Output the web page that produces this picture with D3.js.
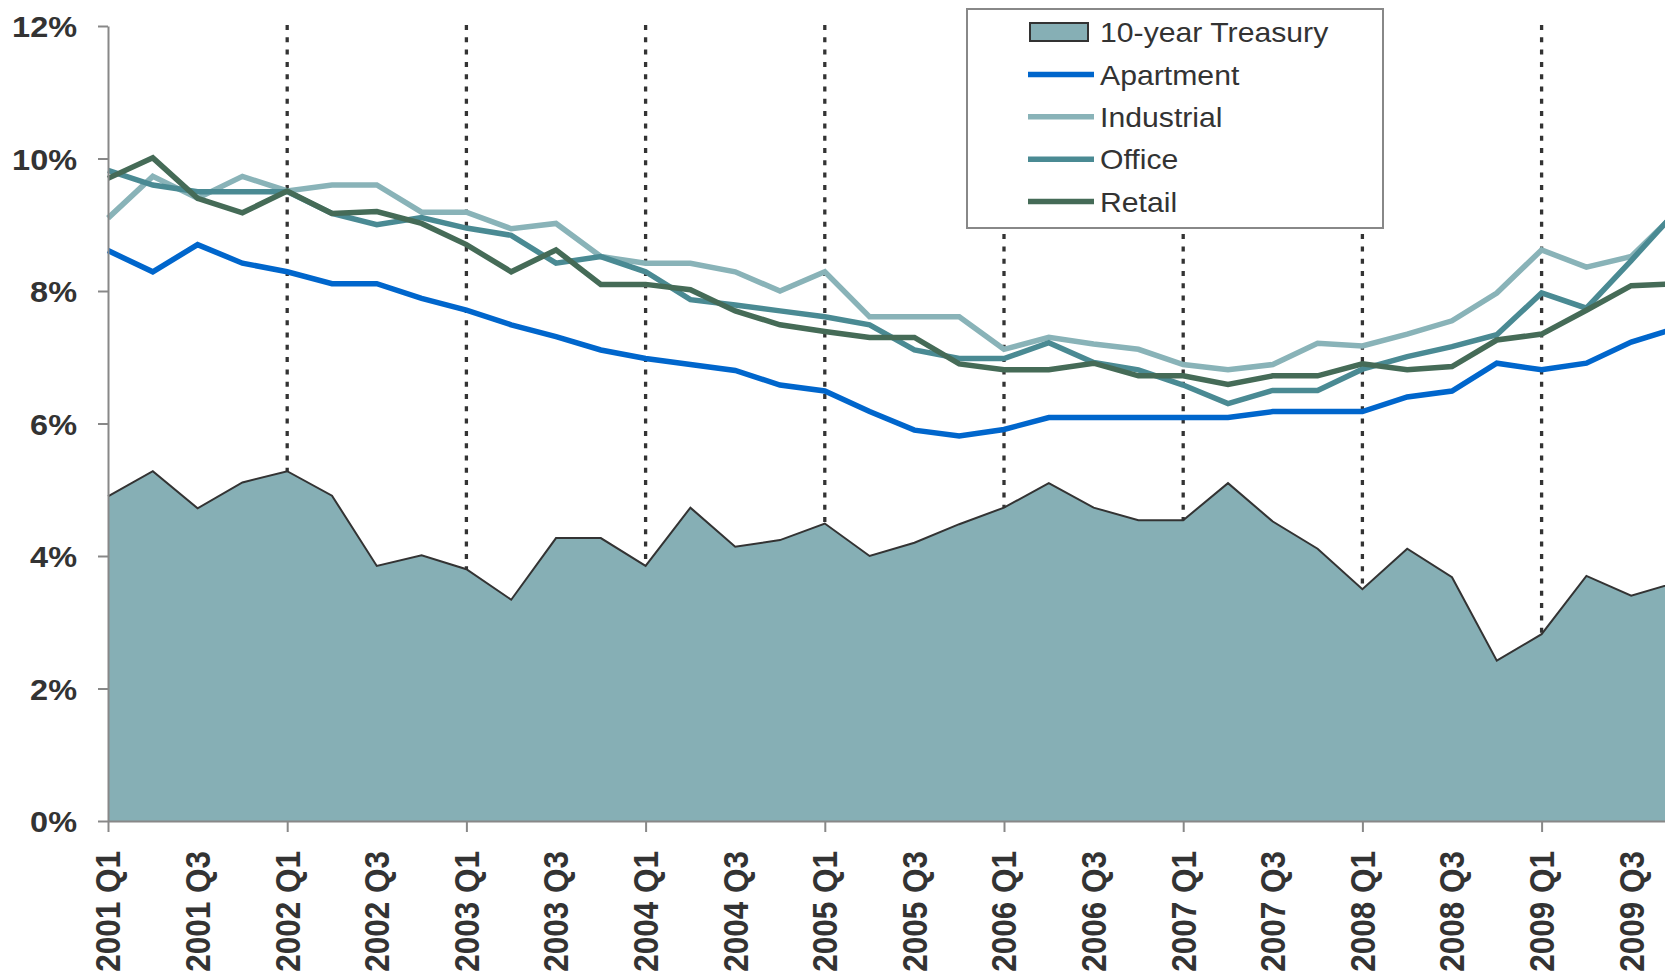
<!DOCTYPE html>
<html>
<head>
<meta charset="utf-8">
<script src="https://cdnjs.cloudflare.com/ajax/libs/d3/7.8.5/d3.min.js"></script>
<style>
  html, body { margin: 0; padding: 0; background: #fff; overflow: hidden; }
  svg { display: block; font-family: "Liberation Sans", Arial, sans-serif; }
</style>
</head>
<body>
<svg id="chart" width="1665" height="974"></svg>
<script>
const categories = [
  "2001 Q1","2001 Q2","2001 Q3","2001 Q4",
  "2002 Q1","2002 Q2","2002 Q3","2002 Q4",
  "2003 Q1","2003 Q2","2003 Q3","2003 Q4",
  "2004 Q1","2004 Q2","2004 Q3","2004 Q4",
  "2005 Q1","2005 Q2","2005 Q3","2005 Q4",
  "2006 Q1","2006 Q2","2006 Q3","2006 Q4",
  "2007 Q1","2007 Q2","2007 Q3","2007 Q4",
  "2008 Q1","2008 Q2","2008 Q3","2008 Q4",
  "2009 Q1","2009 Q2","2009 Q3","2009 Q4"
];
const treasury   = [4.90,5.28,4.72,5.11,5.28,4.91,3.85,4.01,3.80,3.34,4.27,4.27,3.85,4.73,4.14,4.24,4.49,4.00,4.20,4.48,4.73,5.10,4.73,4.54,4.54,5.10,4.52,4.11,3.50,4.11,3.68,2.42,2.82,3.70,3.40,3.60];
const apartment  = [8.61,8.29,8.70,8.42,8.29,8.11,8.11,7.89,7.71,7.49,7.31,7.11,6.98,6.89,6.80,6.58,6.49,6.18,5.90,5.81,5.91,6.09,6.09,6.09,6.09,6.09,6.18,6.18,6.18,6.40,6.49,6.91,6.81,6.91,7.23,7.44];
const industrial = [9.10,9.73,9.40,9.73,9.51,9.60,9.60,9.19,9.19,8.94,9.02,8.52,8.42,8.42,8.29,8.00,8.29,7.61,7.61,7.61,7.12,7.30,7.20,7.12,6.89,6.81,6.89,7.21,7.17,7.35,7.55,7.97,8.62,8.36,8.52,9.18];
const office     = [9.82,9.60,9.50,9.50,9.50,9.17,9.00,9.11,8.95,8.84,8.42,8.52,8.29,7.87,7.79,7.70,7.61,7.49,7.11,6.98,6.98,7.22,6.92,6.81,6.58,6.30,6.50,6.50,6.82,7.01,7.16,7.34,7.97,7.74,8.46,9.20];
const retail     = [9.70,10.01,9.40,9.18,9.51,9.17,9.20,9.02,8.70,8.29,8.62,8.10,8.10,8.02,7.70,7.49,7.39,7.30,7.30,6.90,6.81,6.81,6.91,6.72,6.72,6.59,6.72,6.72,6.90,6.81,6.86,7.26,7.35,7.71,8.08,8.11];
const yTicks = [0, 2, 4, 6, 8, 10, 12];
const xLabelCats = categories.filter(c => c.endsWith("Q1") || c.endsWith("Q3"));
const xTickCats = categories.filter(c => c.endsWith("Q1"));

const seriesNames  = ["Apartment", "Industrial", "Office", "Retail"];
const seriesValues = [apartment, industrial, office, retail];
const seriesColors = ["#0066CC", "#89B3B8", "#4A8A93", "#456B57"];
const areaColor = "#86AFB5";
const textColor = "#333333";
const axisColor = "#888888";

const svg = d3.select("#chart");

const x = d3.scalePoint().domain(categories).range([108, 108 + 35 * 44.8]).padding(0);
const y = d3.scaleLinear().domain([0, 12]).range([821, 26]);

// Treasury area
const tData = categories.map((c, i) => ({ c, v: treasury[i] }));
svg.append("path")
  .datum(tData)
  .attr("fill", areaColor)
  .attr("d", d3.area().x(d => x(d.c)).y0(y(0)).y1(d => y(d.v)));
svg.append("path")
  .datum(tData)
  .attr("fill", "none")
  .attr("stroke", "#333")
  .attr("stroke-width", 2)
  .attr("stroke-linejoin", "miter")
  .attr("d", d3.line().x(d => x(d.c)).y(d => y(d.v)));

// Dotted vertical lines at each Q1 (from 2002)
svg.append("g").selectAll("line")
  .data(categories.map((c, i) => ({ c, v: treasury[i] })).filter((d, i) => d.c.endsWith("Q1") && i > 0))
  .join("line")
  .attr("x1", d => x(d.c)).attr("x2", d => x(d.c))
  .attr("y1", y(12) - 1).attr("y2", d => y(d.v))
  .attr("stroke", "#333")
  .attr("stroke-width", 3.3)
  .attr("stroke-dasharray", "5,7.3");

// Series lines
seriesNames.forEach((name, k) => {
  svg.append("path")
    .datum(categories.map((c, i) => ({ c, v: seriesValues[k][i] })))
    .attr("fill", "none")
    .attr("stroke", seriesColors[k])
    .attr("stroke-width", 5.5)
    .attr("stroke-linejoin", "miter")
    .attr("d", d3.line().x(d => x(d.c)).y(d => y(d.v)));
});

// Y axis
const yAxis = svg.append("g")
  .attr("transform", "translate(108,0)")
  .call(d3.axisLeft(y).tickValues(yTicks).tickSize(10).tickSizeOuter(0).tickFormat(d => d + "%"));
yAxis.select(".domain").attr("stroke", axisColor).attr("stroke-width", 2);
yAxis.selectAll(".tick line").attr("stroke", axisColor).attr("stroke-width", 2);
yAxis.selectAll(".tick text")
  .attr("fill", textColor)
  .attr("font-size", 29.5)
  .attr("font-weight", "bold")
  .attr("font-family", "Liberation Sans, Arial, sans-serif")
  .attr("x", -31 / 1.1)
  .attr("dy", "0.36em")
  .attr("transform", "scale(1.1,1)");

// X axis (tick marks at Q1)
const xAxis = svg.append("g")
  .attr("transform", "translate(0,821)")
  .call(d3.axisBottom(x).tickValues(xTickCats).tickSize(11).tickSizeOuter(0).tickFormat(""));
xAxis.select(".domain").attr("stroke", axisColor).attr("stroke-width", 2);
xAxis.selectAll(".tick line").attr("stroke", axisColor).attr("stroke-width", 2);

// X labels (Q1 and Q3)
svg.append("g").selectAll("text")
  .data(xLabelCats)
  .join("text")
  .attr("transform", d => `translate(${x(d)},851) rotate(-90) scale(1,1.1)`)
  .attr("text-anchor", "end")
  .attr("dy", "0.36em")
  .attr("fill", textColor)
  .attr("font-size", 31.5)
  .attr("font-weight", "bold")
  .text(d => d);

// Legend
const legend = svg.append("g");
legend.append("rect")
  .attr("x", 967).attr("y", 9).attr("width", 416).attr("height", 219)
  .attr("fill", "#fff").attr("stroke", axisColor).attr("stroke-width", 2);
const legendItems = ["10-year Treasury"].concat(seriesNames);
legendItems.forEach((name, k) => {
  const cy = 32 + k * 42.4;
  if (k === 0) {
    legend.append("rect")
      .attr("x", 1030).attr("y", cy - 9).attr("width", 58).attr("height", 18)
      .attr("fill", areaColor).attr("stroke", "#333").attr("stroke-width", 2);
  } else {
    legend.append("line")
      .attr("x1", 1028).attr("x2", 1094).attr("y1", cy).attr("y2", cy)
      .attr("stroke", seriesColors[k - 1]).attr("stroke-width", 5.5);
  }
  legend.append("text")
    .attr("transform", `translate(1100,${cy}) scale(1.06,1)`)
    .attr("dy", "0.36em")
    .attr("fill", textColor)
    .attr("font-size", 28.5)
    .text(name);
});
</script>
</body>
</html>
